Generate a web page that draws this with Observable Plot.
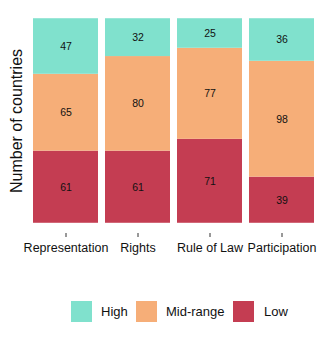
<!DOCTYPE html>
<html>
<head>
<meta charset="utf-8">
<script src="https://cdn.jsdelivr.net/npm/d3@7"></script>
<script src="https://cdn.jsdelivr.net/npm/@observablehq/plot@0.6"></script>
<style>
  html, body { margin: 0; padding: 0; background: #fff; }
  body { width: 323px; height: 340px; overflow: hidden; font-family: "Liberation Sans", Arial, sans-serif; }
  #legend { position: relative; height: 40px; }
  .sw { position: absolute; top: 31px; width: 21px; height: 21px; }
  .lb { position: absolute; top: 31px; height: 21px; line-height: 21px; font-size: 13px; color: #111; }
</style>
</head>
<body>
<div id="chart"></div>
<div id="legend"></div>
<script>
const categories = ["Representation", "Rights", "Rule of Law", "Participation"];
const levels = ["Low", "Mid-range", "High"];
const lowValues = [61, 61, 71, 39];
const midValues = [65, 80, 77, 98];
const highValues = [47, 32, 25, 36];
const legendOrder = ["High", "Mid-range", "Low"];
const levelColors = {"High": "#80E1CD", "Mid-range": "#F6AE78", "Low": "#C43D52"};

const series = {"Low": lowValues, "Mid-range": midValues, "High": highValues};
const data = [];
for (const level of levels) {
  categories.forEach((c, i) => data.push({category: c, level, value: series[level][i]}));
}

const chart = Plot.plot({
  width: 323,
  height: 270,
  marginLeft: 30,
  marginRight: 5,
  marginTop: 8,
  marginBottom: 37,
  style: {fontFamily: "'Liberation Sans', Arial, sans-serif", background: "#fff", overflow: "visible"},
  x: {domain: categories, paddingInner: 0.094, paddingOuter: 0.047, label: null},
  y: {domain: [-8.65, 181.65], axis: null},
  color: {domain: legendOrder, range: legendOrder.map(d => levelColors[d])},
  marks: [
    Plot.barY(data, {x: "category", y: "value", z: "level", fill: "level", order: levels}),
    Plot.text(data, Plot.stackY({x: "category", y: "value", z: "level", text: "value", order: levels, fontSize: 10.5, fill: "#111"})),
    Plot.axisX({tickSize: 4, tickPadding: 6, fontSize: 12.5, stroke: "#333", fill: "#111", label: null}),
    Plot.text(["Number of countries"], {frameAnchor: "left", textAnchor: "middle", lineAnchor: "middle", rotate: -90, dx: -14, fontSize: 16, fill: "#111"})
  ]
});
document.getElementById("chart").appendChild(chart);

const legend = document.getElementById("legend");
const pos = [[71, 101], [136, 166], [233, 264]];
legendOrder.forEach((lvl, i) => {
  const s = document.createElement("div");
  s.className = "sw"; s.style.left = pos[i][0] + "px"; s.style.background = levelColors[lvl];
  const t = document.createElement("div");
  t.className = "lb"; t.style.left = pos[i][1] + "px"; t.textContent = lvl;
  legend.appendChild(s); legend.appendChild(t);
});
</script>
</body>
</html>
